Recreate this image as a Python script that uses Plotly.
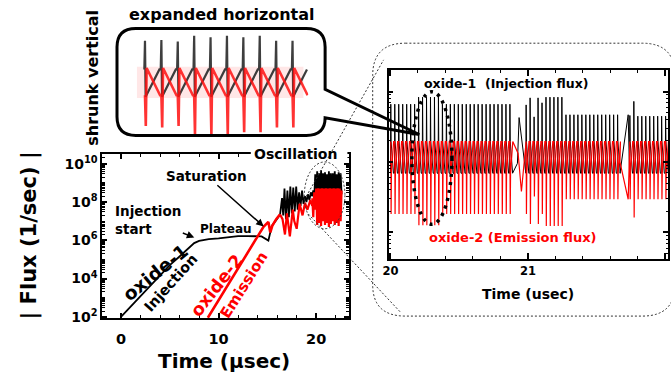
import plotly.graph_objects as go

W, H = 671, 381
def px(x): return x / W
def py(y): return 1 - y / H
def pt(x, y): return f"{px(x):.5f},{py(y):.5f}"

FONT = "DejaVu Sans, Arial, sans-serif"

# ---------------- data (log10 of |Flux| in 1/sec, time in usec) ----------------
# Main panel, oxide-1 (injection) - smooth part
inj_t   = [0, 1, 2, 3, 4, 5, 6, 7, 7.5, 8, 8.5, 9, 10, 11, 12, 13, 13.8, 14.4, 15.1, 15.45, 15.9, 16.3]
inj_log = [2.0, 2.55, 3.1, 3.65, 4.2, 4.7, 5.15, 5.6, 5.85, 5.97, 6.03, 6.06, 6.1, 6.15, 6.22, 6.22, 6.2, 6.2, 5.98, 6.75, 7.05, 7.35]
# oxide-1 early oscillation
inj_osc_t   = [16.3, 16.5, 16.62, 16.75, 16.9, 17.05, 17.2, 17.35, 17.5, 17.65, 17.8, 17.95, 18.1, 18.25, 18.4, 18.55, 18.7, 18.85, 19.0, 19.15, 19.3, 19.45, 19.6]
inj_osc_log = [7.35, 8.2, 7.3, 8.7, 7.1, 8.6, 7.2, 8.8, 7.4, 8.75, 7.5, 8.8, 7.6, 8.5, 7.8, 8.6, 7.9, 8.3, 8.0, 8.4, 8.1, 8.5, 8.3]

# Main panel, oxide-2 (emission)
emi_t   = [8.9, 10, 11, 12, 13, 14, 14.6, 15.1, 15.3, 15.5, 15.9, 16.3]
emi_log = [1.95, 2.87, 3.72, 4.58, 5.42, 6.2, 6.7, 6.96, 6.41, 6.75, 7.1, 7.35]
emi_osc_t   = [16.3, 16.55, 16.8, 17.0, 17.3, 17.6, 17.75, 18.0, 18.3, 18.6, 18.85, 19.1, 19.4, 19.6]
emi_osc_log = [7.35, 7.1, 6.3, 7.4, 6.2, 7.6, 7.0, 6.6, 7.9, 7.3, 7.95, 7.6, 8.1, 7.8]

# dense oscillation block (20-22.6 usec)
blk_t = [19.6, 19.7, 19.8, 19.9, 20.0, 20.1, 20.2, 20.3, 20.4, 20.5, 20.6, 20.7, 20.8, 20.9, 21.0, 21.1,
         21.2, 21.3, 21.4, 21.5, 21.6, 21.7, 21.8, 21.9, 22.0, 22.1, 22.2, 22.3, 22.4, 22.5, 22.6]
blk_inj_log = [8.3, 8.6, 8.2, 9.45, 8.3, 9.6, 8.2, 9.5, 8.3, 9.65, 8.2, 9.5, 8.3, 9.55, 8.2, 9.45,
               8.3, 9.6, 8.2, 9.5, 8.3, 9.5, 8.2, 9.6, 8.3, 9.45, 8.2, 9.55, 8.3, 9.5, 8.4]
blk_emi_log = [8.2, 7.2, 8.5, 7.6, 8.7, 6.8, 8.72, 6.9, 8.7, 6.75, 8.72, 7.0, 8.7, 6.8, 8.72, 6.9,
               8.7, 6.7, 8.72, 6.85, 8.7, 7.0, 8.72, 6.8, 8.7, 6.9, 8.72, 6.75, 8.7, 7.0, 8.6]

# Main y-axis labels
main_y_labels = [2, 4, 6, 8, 10]

# Inset (20-22 usec): spike trains in four bursts
ins_period = 0.0289
ins_seg_start = [20.000, 20.985, 21.275, 21.740]
ins_band_top = 9.29
ins_band_bottom = 8.84
ins_black_peak = [
    [9.82, 9.82, 9.82, 9.82, 9.82, 9.82, 9.82, 9.92, 9.92, 9.92, 9.92, 9.92, 9.92, 9.82, 9.82, 9.82,
     9.82, 9.82, 9.82, 9.82, 9.82, 9.82, 9.82, 9.82, 9.82, 9.82, 9.82, 9.82, 9.82, 9.82, 9.82],
    [9.81, 9.91, 9.64, 9.91, 9.84, 9.92, 9.92, 9.92, 9.92, 9.92],
    [9.67, 9.67, 9.67, 9.67, 9.67, 9.67, 9.67, 9.67, 9.67, 9.67, 9.67, 9.67, 9.67, 9.67],
    [9.66, 9.86, 9.65, 9.65, 9.65, 9.65, 9.65, 9.65, 9.65, 9.65],
]
ins_red_trough = [
    [8.26, 8.26, 8.26, 8.26, 8.26, 8.26, 8.26, 8.10, 8.10, 8.10, 8.10, 8.10, 8.10, 8.26, 8.26, 8.26,
     8.26, 8.26, 8.26, 8.26, 8.26, 8.26, 8.26, 8.26, 8.26, 8.26, 8.26, 8.26, 8.26, 8.26, 8.26],
    [8.26, 8.12, 8.51, 8.12, 8.26, 8.09, 8.09, 8.09, 8.09, 8.09],
    [8.47, 8.47, 8.47, 8.47, 8.47, 8.47, 8.47, 8.47, 8.47, 8.47, 8.47, 8.47, 8.47, 8.47],
    [8.47, 8.21, 8.47, 8.47, 8.47, 8.47, 8.47, 8.47, 8.47, 8.47],
]
# transitions seen between bursts
ins_gap_black_t = [[20.924, 20.936], [], [21.67, 21.73], []]
ins_gap_black_v = [[8.98, 9.63], [], [8.84, 9.67], []]
ins_gap_red_t = [[20.929, 20.953], [], [21.67, 21.73], []]
ins_gap_red_v = [[9.12, 8.58], [], [9.0, 8.47], []]

# Callout bubble (expanded horizontal, shrunk vertical)
bub_pos = [1, 2, 3, 4, 5, 6, 7, 8, 9, 10]
bub_black_peak = [9.66, 9.67, 9.65, 9.73, 9.71, 9.73, 9.71, 9.73, 9.66, 9.66]
bub_red_trough = [8.44, 8.42, 8.44, 8.32, 8.32, 8.32, 8.35, 8.35, 8.42, 8.42]

# ---------------- build series ----------------
def L(v): return [10 ** a for a in v]

ins_bt, ins_bv, ins_rt, ins_rv = [], [], [], []
p = ins_period
for s, start in enumerate(ins_seg_start):
    for k, (pk, tr) in enumerate(zip(ins_black_peak[s], ins_red_trough[s])):
        ts = start + k * p
        ins_bt += [ts, ts + 0.08 * p, ts + 0.16 * p, ts + 0.75 * p]
        ins_bv += [ins_band_bottom, pk, ins_band_top, ins_band_bottom]
        ins_rt += [ts + 0.08 * p, ts + 0.16 * p, ts + 0.24 * p, ts + 0.8 * p]
        ins_rv += [ins_band_top, tr, ins_band_bottom, ins_band_top]
    ins_bt += ins_gap_black_t[s]; ins_bv += ins_gap_black_v[s]
    ins_rt += ins_gap_red_t[s]; ins_rv += ins_gap_red_v[s]

bub_bt, bub_bv, bub_rt, bub_rv = [], [], [], []
for t, pk, tr in zip(bub_pos, bub_black_peak, bub_red_trough):
    bub_bt += [t, t + 0.04, t + 0.08, t + 0.92]
    bub_bv += [ins_band_top - 0.04, pk, ins_band_bottom + 0.02, ins_band_top - 0.04]
    bub_rt += [t + 0.04, t + 0.09, t + 0.14, t + 0.96]
    bub_rv += [ins_band_bottom + 0.04, tr, ins_band_top - 0.02, ins_band_bottom + 0.04]

fig = go.Figure()
BLK = "black"; RED = "#ff0000"
def add(x, y, color, width, xa="x", ya="y", opacity=1.0):
    fig.add_trace(go.Scatter(x=x, y=y, mode="lines", xaxis=xa, yaxis=ya, opacity=opacity,
                             line=dict(color=color, width=width), hoverinfo="skip", showlegend=False))

# main panel
add(inj_t, L(inj_log), BLK, 1.8)
add(inj_osc_t, L(inj_osc_log), BLK, 1.8)
add(blk_t, L(blk_inj_log), BLK, 1.8)
add(emi_t, L(emi_log), RED, 2.6)
add(emi_osc_t, L(emi_osc_log), RED, 2.2)
add(blk_t, L(blk_emi_log), RED, 2.2)
# inset
add(ins_bt, L(ins_bv), BLK, 1.0, "x2", "y2")
add(ins_rt, L(ins_rv), RED, 1.2, "x2", "y2")
# bubble
add(bub_bt, bub_bv, "#2a2a2a", 2.2, "x3", "y3", 0.9)
add(bub_rt, bub_rv, "#ff1010", 2.6, "x3", "y3", 0.85)

axcommon = dict(showline=True, linecolor="black", linewidth=1.5, mirror="allticks", ticks="inside",
                tickcolor="black", showgrid=False, zeroline=False)

fig.update_layout(
    width=W, height=H, margin=dict(l=0, r=0, t=0, b=0),
    paper_bgcolor="white", plot_bgcolor="rgba(0,0,0,0)", showlegend=False,
    xaxis=dict(domain=[px(97), px(346)], range=[-1.93, 23.35], anchor="y",
               tickvals=[0, 10, 20], ticktext=["<b>0</b>", "<b>10</b>", "<b>20</b>"],
               ticklen=5, tickwidth=1.5, tickfont=dict(family=FONT, size=14.5, color="black"),
               ticklabelstandoff=7,
               minor=dict(dtick=2, ticks="inside", ticklen=3, tickwidth=1, tickcolor="black"),
               **axcommon),
    yaxis=dict(domain=[py(324), py(157)], type="log", range=[1.936, 10.5], anchor="x",
               tickvals=[10 ** k for k in main_y_labels],
               ticktext=["<b>10<sup>%d</sup></b>" % k for k in main_y_labels],
               ticklen=5, tickwidth=1.5, tickfont=dict(family=FONT, size=14, color="black"),
               minor=dict(dtick="D1", ticks="inside", ticklen=3, tickwidth=1, tickcolor="black"),
               **axcommon),
    xaxis2=dict(domain=[px(386), px(668)], range=[19.986, 22.02], anchor="y2",
                tickvals=[20, 21, 22], ticktext=["<b>20</b>", "<b>21</b>", "<b>22</b>"],
                ticklen=6, tickwidth=1.5, tickfont=dict(family=FONT, size=11.5, color="black"),
                minor=dict(dtick=0.2, ticks="inside", ticklen=3, tickwidth=1, tickcolor="black"),
                **axcommon),
    yaxis2=dict(domain=[py(264), py(71.7)], type="log", range=[7.62, 10.3], anchor="x2",
                tickvals=[1e8, 1e9, 1e10], showticklabels=False, ticklen=5, tickwidth=1.5,
                minor=dict(dtick="D1", ticks="inside", ticklen=2.5, tickwidth=1, tickcolor="black"),
                **axcommon),
    xaxis3=dict(domain=[px(128), px(305)], range=[0.3, 11.0], anchor="y3", visible=False),
    yaxis3=dict(domain=[py(140), py(33)], range=[8.277, 9.78], anchor="x3", visible=False),
)

DOT = dict(color="#333", width=1, dash="2px,2px")
shapes = [
    # pink band in the callout
    dict(type="rect", xref="x3", yref="y3", x0=0.55, x1=10.7, y0=ins_band_bottom, y1=ins_band_top,
         fillcolor="rgba(255,120,120,0.18)", line=dict(width=0), layer="below"),
    # white-out of top border behind "Oscillation"
    dict(type="rect", xref="paper", yref="paper", x0=px(247), x1=px(344.5), y0=py(161), y1=py(152),
         fillcolor="white", line=dict(width=0)),
    # ellipse around the oscillation block
    dict(type="circle", xref="paper", yref="paper", x0=px(301), x1=px(342), y0=py(233), y1=py(165), line=DOT),
    # magnification lines
    dict(type="line", xref="paper", yref="paper", x0=px(303), y0=py(200), x1=px(381), y1=py(61), line=DOT),
    dict(type="line", xref="paper", yref="paper", x0=px(305), y0=py(218), x1=px(398), y1=py(318), line=DOT),
    # dashed rounded frame around the inset
    dict(type="path", xref="paper", yref="paper", line=DOT,
         path=(f"M {pt(403,44)} L {pt(642,44)} Q {pt(675,44)} {pt(675,77)} L {pt(675,290)} "
               f"Q {pt(675,322)} {pt(642,322)} L {pt(403,322)} Q {pt(370,322)} {pt(370,290)} "
               f"L {pt(370,77)} Q {pt(370,44)} {pt(403,44)} Z")),
    # dotted ellipse in the inset
    dict(type="circle", xref="paper", yref="paper", x0=px(409.5), x1=px(450), y0=py(228.5), y1=py(93.5),
         line=dict(color="black", width=3.5, dash="3px,5px")),
    # callout bubble
    dict(type="path", xref="paper", yref="paper", line=dict(color="black", width=3),
         path=(f"M {pt(131,29)} L {pt(303,29)} Q {pt(322,29)} {pt(322,48)} L {pt(322,91)} "
               f"L {pt(417,137)} L {pt(322,120)} Q {pt(322,138)} {pt(303,138)} L {pt(131,138)} "
               f"Q {pt(112,138)} {pt(112,119)} L {pt(112,48)} Q {pt(112,29)} {pt(131,29)} Z")),
]
fig.update_layout(shapes=shapes)

def txt(s, x, y, size, color="black", angle=0, xanchor="center", head=None):
    d = dict(text=f"<b>{s}</b>", x=px(x), y=py(y), xref="paper", yref="paper", showarrow=False,
             font=dict(family=FONT, size=size, color=color), textangle=angle,
             xanchor=xanchor, yanchor="middle", align="left")
    if head is not None:
        hx, hy = head
        d.update(x=px(hx), y=py(hy), ax=x - hx, ay=y - hy, axref="pixel", ayref="pixel",
                 showarrow=True, arrowhead=2, arrowsize=1, arrowwidth=1.5, arrowcolor="black",
                 xanchor="center", standoff=0)
    return d

ann = [
    txt("expanded horizontal", 218, 15, 16),
    txt("shrunk vertical", 87, 79, 16, angle=-90),
    txt("| Flux (1/sec) |", 24, 240, 21, angle=-90),
    txt("Time (µsec)", 220, 368, 20),
    txt("Oscillation", 292, 157, 14),
    txt("Saturation", 203, 180, 13.5, head=(260, 230.7)),
    txt("Injection<br>start", 144, 224, 13.5, head=(190, 242)),
    txt("Plateau", 222, 233, 12),
    txt("oxide-1", 151, 278, 18.5, angle=-39),
    txt("Injection", 166, 288, 14.5, angle=-48),
    txt("oxide-2", 212, 291, 17.5, color=RED, angle=-52),
    txt("Emission", 240, 290, 15, color=RED, angle=-58),
    txt("oxide-1&nbsp; (Injection flux)", 505, 85, 12.5),
    txt("oxide-2 (Emission flux)", 512, 242, 13, color=RED),
    txt("Time (usec)", 527, 300, 14),
]
fig.update_layout(annotations=ann)

fig.write_html("out.html")
